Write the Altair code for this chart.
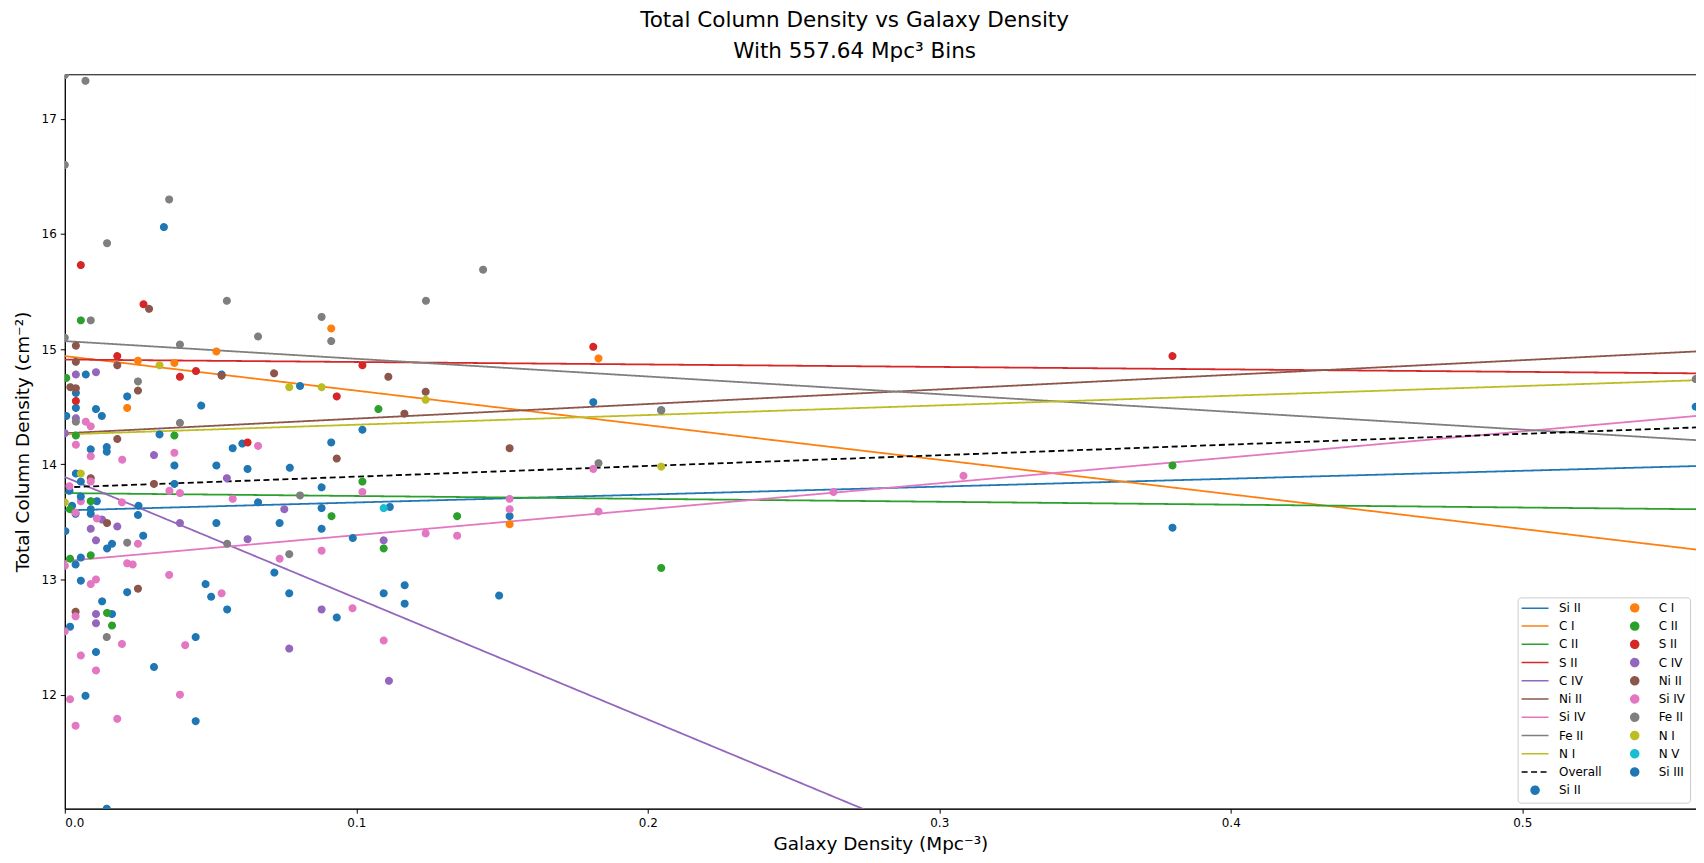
import altair as alt
import pandas as pd

# ---------------- scatter data (galaxy density, total column density) ----------------
si2_x = [0.034, 0.0072, 0.0538, 0.0807, 0.0038, 0.0214, 0.0468, 0.0038, 0.0107, 0.0005, 0.0127, 0.1021,
         0.0325, 0.0089, 0.0144, 0.0144, 0.0576, 0.0609, 0.0914, 0.0376, 0.052, 0.0627, 0.0772, 0.0038,
         0.0055, 0.0376, 0.0881, 0.0016, 0.011, 0.0025, 0.0089, 0.0037, 0.0089, 0.0002, 0.0253, 0.0251,
         0.0269, 0.0162, 0.0145, 0.0037, 0.0055, 0.0055, 0.0214, 0.0483, 0.0502, 0.0128, 0.0162, 0.0018,
         0.0107, 0.0071, 0.0306, 0.0449, 0.0449, 0.0144, 0.0663, 0.0881, 0.1115, 0.052, 0.0737, 0.0881,
         0.0988, 0.0719, 0.0557, 0.077, 0.0933, 0.1094, 0.1166, 0.1166, 0.1813, 0.2046, 0.1526, 0.149,
         0.38, 0.5595]
si2_y = [16.06, 14.78, 14.78, 14.68, 14.62, 14.59, 14.51, 14.49, 14.48, 14.42, 14.42, 14.30,
         14.26, 14.13, 14.15, 14.11, 14.14, 14.18, 14.19, 13.99, 13.99, 13.96, 13.97, 13.92,
         13.85, 13.83, 13.80, 13.77, 13.68, 13.64, 13.61, 13.57, 13.57, 13.42, 13.64, 13.56,
         13.38, 13.31, 13.27, 13.13, 13.19, 12.99, 12.89, 12.96, 12.85, 12.81, 12.70, 12.59,
         12.37, 11.99, 12.24, 12.50, 11.77, 11.01, 13.67, 13.62, 13.63, 13.49, 13.49, 13.44,
         13.36, 13.06, 12.74, 12.88, 12.67, 12.88, 12.95, 12.79, 14.54, 14.47, 13.55, 12.86,
         13.45, 14.50]
c1_x = [0.0914, 0.052, 0.0251, 0.0376, 0.0214, 0.1831, 0.1526]
c1_y = [15.18, 14.98, 14.90, 14.88, 14.49, 14.92, 13.48]
c2_x = [0.0055, 0.0005, 0.1076, 0.0038, 0.0376, 0.1021, 0.0089, 0.0018, 0.0018, 0.0089, 0.0145, 0.0162,
        0.0915, 0.1094, 0.1346, 0.2046, 0.38]
c2_y = [15.25, 14.75, 14.48, 14.25, 14.25, 13.85, 13.68, 13.61, 13.18, 13.21, 12.71, 12.60,
        13.55, 13.27, 13.55, 13.10, 13.99]
s2_x = [0.0055, 0.027, 0.018, 0.1021, 0.0395, 0.045, 0.0933, 0.0038, 0.0627, 0.1813, 0.38]
s2_y = [15.73, 15.39, 14.94, 14.86, 14.76, 14.81, 14.59, 14.55, 14.19, 15.02, 14.94]
c4_x = [0.0038, 0.0107, 0.0038, 0.0, 0.0306, 0.0556, 0.0128, 0.018, 0.0089, 0.0395, 0.0107, 0.0107,
        0.0107, 0.0753, 0.0627, 0.1094, 0.0881, 0.077, 0.1112]
c4_y = [14.78, 14.80, 14.40, 14.27, 14.08, 13.88, 13.52, 13.46, 13.44, 13.49, 13.34, 12.70,
        12.62, 13.61, 13.35, 13.34, 12.74, 12.40, 12.12]
ni2_x = [0.0289, 0.0038, 0.0038, 0.018, 0.0538, 0.0718, 0.111, 0.0019, 0.0038, 0.0251, 0.1165, 0.018,
         0.0933, 0.0089, 0.0306, 0.0145, 0.0251, 0.0037, 0.1238, 0.1526]
ni2_y = [15.35, 15.03, 14.89, 14.86, 14.77, 14.79, 14.76, 14.67, 14.66, 14.64, 14.44, 14.22,
         14.05, 13.88, 13.83, 13.49, 12.92, 12.72, 14.63, 14.14]
si4_x = [0.0072, 0.0089, 0.0038, 0.0376, 0.0197, 0.0089, 0.0663, 0.0089, 0.0359, 0.0395, 0.1021, 0.0016,
         0.0055, 0.0037, 0.011, 0.0196, 0.0251, 0.0, 0.0214, 0.0233, 0.0358, 0.0089, 0.0107, 0.0037,
         0.0, 0.0055, 0.0196, 0.0107, 0.0018, 0.0037, 0.018, 0.0413, 0.0395, 0.0576, 0.0881, 0.1238,
         0.0737, 0.0538, 0.0987, 0.1094, 0.1813, 0.1526, 0.1526, 0.1831, 0.1346, 0.2637, 0.3083]
si4_y = [14.37, 14.33, 14.17, 14.10, 14.04, 14.07, 14.16, 13.85, 13.77, 13.75, 13.76, 13.81,
         13.68, 13.58, 13.53, 13.67, 13.31, 13.12, 13.14, 13.13, 13.04, 12.96, 13.00, 12.68,
         12.55, 12.34, 12.44, 12.21, 11.96, 11.73, 11.79, 12.43, 12.00, 13.70, 13.25, 13.40,
         13.18, 12.88, 12.75, 12.47, 13.96, 13.70, 13.61, 13.59, 13.38, 13.76, 13.90]
fe2_x = [0.0, 0.0071, 0.0, 0.0358, 0.0145, 0.0556, 0.0089, 0.0881, 0.0663, 0.0, 0.0914, 0.0395, 0.0251,
         0.0038, 0.0395, 0.0807, 0.0214, 0.0144, 0.0557, 0.077, 0.1435, 0.1239, 0.2046, 0.1831, 0.5595]
fe2_y = [17.38, 17.33, 16.60, 16.30, 15.92, 15.42, 15.25, 15.28, 15.11, 15.10, 15.07, 15.04, 14.72,
         14.37, 14.36, 13.73, 13.32, 12.50, 13.31, 13.22, 15.69, 15.42, 14.47, 14.01, 14.74]
n1_x = [0.0325, 0.077, 0.0881, 0.0055, 0.0, 0.1238, 0.2046]
n1_y = [14.86, 14.67, 14.67, 13.92, 13.67, 14.56, 13.98]
n5_x = [0.1094]
n5_y = [13.62]
si3_x = [0.0055]
si3_y = [13.72]

point_names = ["Si II", "C I", "C II", "S II", "C IV", "Ni II", "Si IV", "Fe II", "N I", "N V", "Si III"]
point_colors = ["#1f77b4", "#ff7f0e", "#2ca02c", "#d62728", "#9467bd", "#8c564b", "#e377c2",
                "#7f7f7f", "#bcbd22", "#17becf", "#1f77b4"]
point_xs = [si2_x, c1_x, c2_x, s2_x, c4_x, ni2_x, si4_x, fe2_x, n1_x, n5_x, si3_x]
point_ys = [si2_y, c1_y, c2_y, s2_y, c4_y, ni2_y, si4_y, fe2_y, n1_y, n5_y, si3_y]

# ---------------- fitted lines (value at x = 0 and at x = max) ----------------
line_names = ["Si II", "C I", "C II", "S II", "C IV", "Ni II", "Si IV", "Fe II", "N I", "Overall"]
line_colors = ["#1f77b4", "#ff7f0e", "#2ca02c", "#d62728", "#9467bd", "#8c564b", "#e377c2",
               "#7f7f7f", "#bcbd22", "#000000"]
line_y_start = [13.60, 14.94, 13.75, 14.91, 13.89, 14.27, 13.16, 15.07, 14.26, 13.80]
line_y_end = [13.985, 13.26, 13.61, 14.79, 8.00, 14.98, 14.42, 14.21, 14.73, 14.32]
x_range = [0.0, 0.5596]
y_range = [11.01, 17.387]

x_ticks = [0.0, 0.1, 0.2, 0.3, 0.4, 0.5]
y_ticks = [12, 13, 14, 15, 16, 17]

# ---------------- tables ----------------
rows = []
for name, xs_, ys_ in zip(point_names, point_xs, point_ys):
    for xv, yv in zip(xs_, ys_):
        rows.append({"x": xv, "y": yv, "key": "P|" + name})
points_df = pd.DataFrame(rows)

lrows = []
for name, y0, y1 in zip(line_names, line_y_start, line_y_end):
    lrows.append({"x": x_range[0], "y": y0, "key": "L|" + name})
    lrows.append({"x": x_range[1], "y": y1, "key": "L|" + name})
lines_df = pd.DataFrame(lrows)

# legend order: lines first, then scatter series (legend fills column by column)
domain = ["L|" + n for n in line_names] + ["P|" + n for n in point_names]
rng_color = line_colors + point_colors
rng_shape = ["M-3.375,0H3.375"] * len(line_names) + ["circle"] * len(point_names)
rng_dash = [[6, 3.5] if n == "Overall" else [1, 0] for n in line_names] + [[1, 0]] * len(point_names)

legend = alt.Legend(
    title=None, orient="bottom-right", offset=6, columns=2,
    labelExpr="split(datum.label, '|')[1]",
    labelFont="DejaVu Sans", labelFontSize=12, labelColor="black",
    symbolSize=64, symbolStrokeWidth=1.5, symbolOffset=7, labelOffset=18,
    columnPadding=20, rowPadding=4.3, padding=4.5,
    fillColor="white", strokeColor="#cccccc", cornerRadius=3,
)

xs = alt.Scale(domain=x_range, nice=False, zero=False)
ys = alt.Scale(domain=y_range, nice=False, zero=False)
x_axis = alt.Axis(values=x_ticks, format=".1f", title="Galaxy Density (Mpc⁻³)", titlePadding=6)
y_axis = alt.Axis(values=y_ticks, format="d", title="Total Column Density (cm⁻²)", titlePadding=9)

color_scale = alt.Scale(domain=domain, range=rng_color)
shape_scale = alt.Scale(domain=domain, range=rng_shape)
dash_scale = alt.Scale(domain=domain, range=rng_dash)

lines = alt.Chart(lines_df).mark_line(strokeWidth=1.8, clip=True).encode(
    x=alt.X("x:Q", scale=xs, axis=x_axis),
    y=alt.Y("y:Q", scale=ys, axis=y_axis),
    stroke=alt.Stroke("key:N", scale=color_scale, legend=legend),
    strokeDash=alt.StrokeDash("key:N", scale=dash_scale, legend=legend),
)

points = alt.Chart(points_df).mark_point(filled=True, size=44, strokeWidth=1.4, opacity=1, clip=True).encode(
    x=alt.X("x:Q", scale=xs, axis=x_axis),
    y=alt.Y("y:Q", scale=ys, axis=y_axis),
    fill=alt.Fill("key:N", scale=color_scale, legend=legend),
    stroke=alt.Stroke("key:N", scale=color_scale, legend=legend),
    shape=alt.Shape("key:N", scale=shape_scale, legend=legend),
    strokeDash=alt.StrokeDash("key:N", scale=dash_scale, legend=legend),
)

chart = alt.layer(lines, points).properties(
    width=1637, height=737,
    padding={"left": 5, "top": 0, "right": 0, "bottom": 0},
    background="white",
    title=alt.TitleParams(
        text=["Total Column Density vs Galaxy Density", "With 557.64 Mpc³ Bins"],
        fontSize=21.6, font="DejaVu Sans", fontWeight="normal", color="black",
        anchor="middle", frame="bounds", lineHeight=31, offset=12,
    ),
).configure_view(
    stroke="black", strokeWidth=1,
).configure_axis(
    grid=False, domainColor="black", tickColor="black", labelColor="black", titleColor="black",
    labelFont="DejaVu Sans", labelFontSize=12, titleFont="DejaVu Sans", titleFontSize=18.5,
    titleFontWeight="normal", tickSize=4.5, labelPadding=4,
)

chart.save("out.html", embed_options={"renderer": "svg", "actions": False})
